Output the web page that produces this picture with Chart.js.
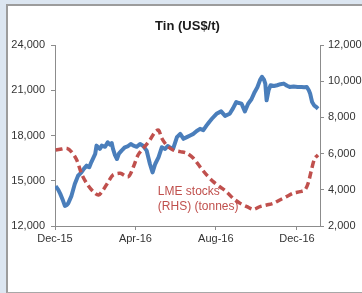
<!DOCTYPE html>
<html>
<head>
<meta charset="utf-8">
<script src="https://cdn.jsdelivr.net/npm/chart.js@4.4.1/dist/chart.umd.min.js"></script>
<style>
  html, body { margin: 0; padding: 0; background: #dce6f1; }
  #frame {
    position: absolute; left: 6px; top: 4px; width: 360px; height: 286px;
    background: #fff; border-left: 2px solid #9c9c9c; border-top: 2px solid #9c9c9c;
    border-bottom: 1px solid #a8a8a8;
  }
  #tinChart { position: absolute; left: 0; top: 0; }
</style>
</head>
<body>
<div id="frame"></div>
<canvas id="tinChart" width="362" height="293"></canvas>
<script>
// x values are days since 1 Dec 2015
const xTickDays = [0, 122, 244, 367];
const xTickLabels = ['Dec-15', 'Apr-16', 'Aug-16', 'Dec-16'];

// Tin price, US$/t (left axis)
const priceDays = [1, 5, 8, 12, 15, 18, 20, 25, 30, 35, 40, 44, 48, 52, 55, 58, 61, 63, 68, 71, 76, 80, 83,
  86, 88, 91, 94, 97, 101, 106, 111, 115, 119, 124, 129, 134, 139, 144, 148, 152, 157, 162, 167,
  171, 174, 179, 185, 190, 195, 200, 205, 210, 215, 220, 225, 230, 234, 238, 245, 252, 258, 265,
  270, 275, 279, 283, 288, 293, 298, 303, 307, 311, 314, 317, 319, 321, 324, 327, 332, 337, 342,
  347, 352, 356, 362, 368, 374, 378, 382, 385, 387, 390, 393, 396, 399];
const priceValues = [14650, 14400, 14130, 13700, 13330, 13400, 13500, 14000, 14780, 15330, 15550, 15800, 16000,
  15900, 16220, 16500, 16780, 17330, 17110, 17330, 17250, 17550, 17400, 17500, 17110, 16700, 16440,
  16800, 17000, 17220, 17300, 17440, 17330, 17250, 17440, 17300, 17000, 16110, 15550, 16110, 16550,
  17220, 17110, 17300, 17220, 17100, 17890, 18110, 17780, 17890, 18000, 18110, 18300, 18440, 18350,
  18670, 18900, 19110, 19440, 19600, 19300, 19440, 19800, 20220, 20150, 20110, 19600, 20110, 20400,
  20890, 21200, 21670, 21890, 21700, 21440, 20330, 21000, 21330, 21280, 21330, 21400, 21440, 21300,
  21220, 21250, 21220, 21220, 21200, 21220, 21000, 20780, 20220, 20000, 19900, 19780];

// LME stocks, tonnes (right axis)
const stockDays = [1, 10, 18, 25, 33, 40, 48, 58, 66, 73, 81, 88, 99, 111, 119, 126, 134, 144, 152, 157,
  162, 169, 179, 190, 200, 210, 220, 230, 240, 250, 260, 270, 281, 291, 301, 311, 321, 331, 341,
  351, 361, 372, 379, 384, 389, 394, 399];
const stockValues = [6200, 6250, 6290, 6100, 5650, 4910, 4360, 3900, 3710, 3990, 4450, 4820, 4910, 4720, 5270,
  5920, 6290, 6750, 7210, 7300, 6850, 6480, 6200, 6110, 6020, 5740, 5270, 4820, 4450, 4170,
  3900, 3530, 3250, 3070, 2920, 3070, 3160, 3250, 3440, 3620, 3810, 3900, 3990, 4360, 5090,
  5740, 5920];

const noteLines = ['LME stocks', '(RHS) (tonnes)'];
const noteDay = 156;
const noteStocks = [3900, 3060];

const axisGrey = '#8c8c8c';
const tickFont = { family: '"Liberation Sans", Arial, sans-serif', size: 11 };

const titleAndNote = {
  id: 'titleAndNote',
  afterDraw(chart) {
    const { ctx, chartArea, scales } = chart;
    ctx.save();
    ctx.textAlign = 'center';
    ctx.textBaseline = 'middle';
    ctx.fillStyle = '#1a1a1a';
    ctx.font = 'bold 13px "Liberation Sans", Arial, sans-serif';
    ctx.fillText('Tin (US$/t)', (chartArea.left + chartArea.right) / 2, 26);

    ctx.textAlign = 'left';
    ctx.fillStyle = '#c0504d';
    ctx.font = '12px "Liberation Sans", Arial, sans-serif';
    noteLines.forEach((line, i) => {
      ctx.fillText(line, scales.x.getPixelForValue(noteDay), scales.y2.getPixelForValue(noteStocks[i]));
    });
    ctx.restore();
  }
};

new Chart(document.getElementById('tinChart'), {
  type: 'line',
  data: {
    datasets: [
      {
        label: 'LME stocks (RHS) (tonnes)',
        data: stockDays.map((d, i) => ({ x: d, y: stockValues[i] })),
        yAxisID: 'y2',
        borderColor: '#c0504d',
        borderWidth: 3.5,
        borderDash: [7, 4],
        pointRadius: 0,
        tension: 0.3,
        order: 1
      },
      {
        label: 'Tin (US$/t)',
        data: priceDays.map((d, i) => ({ x: d, y: priceValues[i] })),
        yAxisID: 'y',
        borderColor: '#4a7ebb',
        borderWidth: 4,
        borderJoinStyle: 'round',
        pointRadius: 0,
        tension: 0,
        order: 2
      }
    ]
  },
  options: {
    responsive: false,
    devicePixelRatio: 1,
    animation: false,
    layout: { padding: { top: 45, left: 0, right: 0, bottom: 0 } },
    plugins: { legend: { display: false }, tooltip: { enabled: false } },
    scales: {
      x: {
        type: 'linear',
        min: 0,
        max: 402,
        afterFit: (axis) => { axis.height = 67; },
        afterBuildTicks: (axis) => { axis.ticks = xTickDays.map(v => ({ value: v })); },
        border: { color: axisGrey, width: 1 },
        grid: { drawOnChartArea: false, tickLength: 4, color: axisGrey },
        ticks: {
          autoSkip: false, maxRotation: 0, padding: 2, color: '#333', font: tickFont,
          callback: (v) => xTickLabels[xTickDays.indexOf(v)]
        }
      },
      y: {
        position: 'left',
        min: 12000,
        max: 24000,
        afterFit: (axis) => { axis.width = 55; },
        border: { color: axisGrey, width: 1 },
        grid: { drawOnChartArea: false, tickLength: 4, color: axisGrey },
        ticks: {
          stepSize: 3000, padding: 6, color: '#333', font: tickFont,
          callback: (v) => v.toLocaleString('en-US')
        }
      },
      y2: {
        position: 'right',
        min: 2000,
        max: 12000,
        afterFit: (axis) => { axis.width = 42; },
        border: { color: axisGrey, width: 1 },
        grid: { drawOnChartArea: false, tickLength: 4, color: axisGrey },
        ticks: {
          stepSize: 2000, padding: 4, color: '#333', font: tickFont,
          callback: (v) => v.toLocaleString('en-US')
        }
      }
    }
  },
  plugins: [titleAndNote]
});
</script>
</body>
</html>
